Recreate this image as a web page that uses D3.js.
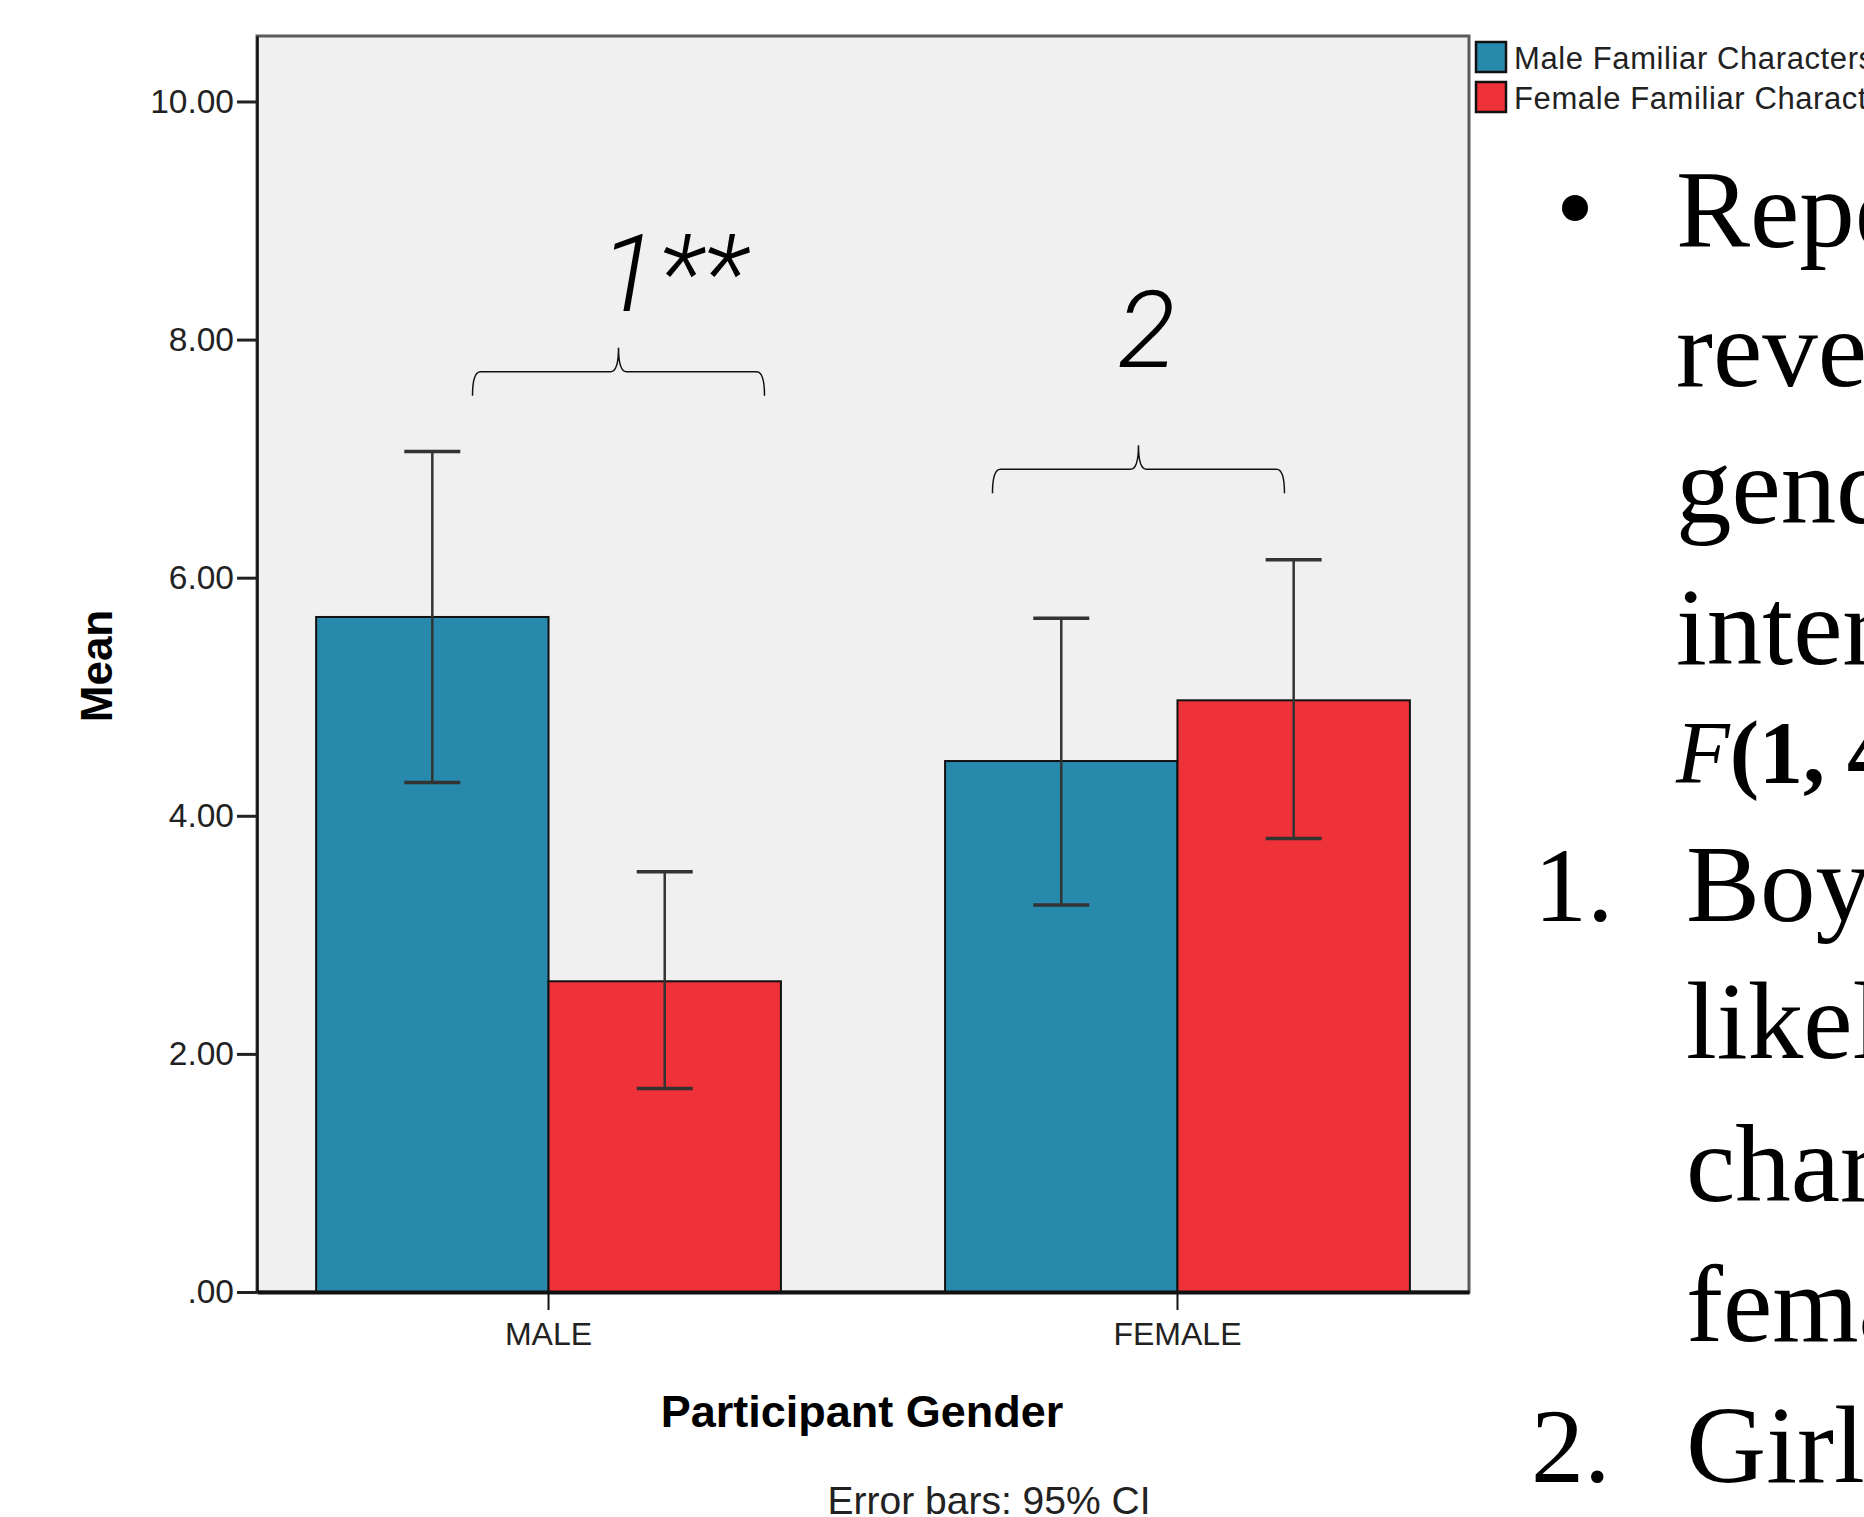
<!DOCTYPE html>
<html>
<head>
<meta charset="utf-8">
<script src="https://cdn.jsdelivr.net/npm/d3@7"></script>
<style>
  html, body { margin: 0; padding: 0; background: #fff; overflow: hidden; }
  svg { display: block; }
</style>
</head>
<body>
<script>
// participant groups on the x axis
const genders = ["MALE", "FEMALE"];
// the two character series
const series = ["Male Familiar Characters", "Female Familiar Characters"];
const seriesColors = ["#2789AB", "#EF323A"];
// means, per gender
const maleCharMeans = [5.67, 4.46];
const femaleCharMeans = [2.61, 4.97];
// 95% CI bounds, per gender
const maleCharLow = [4.28, 3.25];
const maleCharHigh = [7.06, 5.66];
const femaleCharLow = [1.71, 3.81];
const femaleCharHigh = [3.53, 6.15];
const yTicks = [0, 2, 4, 6, 8, 10];
// significance notes above each group
const notes = ["1**", "2"];
const noteLevels = [7.73, 6.91];

const W = 1864, H = 1517;
const plot = {left: 257, top: 36, right: 1469, bottom: 1292};

const svg = d3.select("body").append("svg")
    .attr("width", W)
    .attr("height", H);

const x = d3.scaleBand()
    .domain(genders)
    .range([plot.left, plot.right])
    .paddingInner(0.261)
    .paddingOuter(0.094);

const xs = d3.scaleBand()
    .domain(series)
    .range([0, x.bandwidth()]);

const y = d3.scaleLinear()
    .domain([0, 10.55])
    .range([plot.bottom, plot.top]);

const color = d3.scaleOrdinal().domain(series).range(seriesColors);

// flatten to rows
let rows = [];
genders.forEach(function(g, i) {
  rows.push({g: g, s: series[0], mean: maleCharMeans[i], lo: maleCharLow[i], hi: maleCharHigh[i]});
  rows.push({g: g, s: series[1], mean: femaleCharMeans[i], lo: femaleCharLow[i], hi: femaleCharHigh[i]});
});

// plot background
svg.append("rect")
    .attr("x", plot.left).attr("y", plot.top)
    .attr("width", plot.right - plot.left)
    .attr("height", plot.bottom - plot.top)
    .attr("fill", "#F0F0F0")
    .attr("stroke", "#5a5a5a")
    .attr("stroke-width", 3);

// bars
svg.append("g").selectAll("rect")
    .data(rows)
  .enter().append("rect")
    .attr("x", function(d) { return x(d.g) + xs(d.s); })
    .attr("y", function(d) { return y(d.mean); })
    .attr("width", xs.bandwidth())
    .attr("height", function(d) { return y(0) - y(d.mean); })
    .attr("fill", function(d) { return color(d.s); })
    .attr("stroke", "#111")
    .attr("stroke-width", 2);

// error bars
const capW = 28;
let eb = svg.append("g").selectAll("g")
    .data(rows)
  .enter().append("g")
    .attr("stroke", "#333")
    .attr("stroke-width", 2.5);
eb.append("line")
    .attr("x1", function(d) { return x(d.g) + xs(d.s) + xs.bandwidth() / 2; })
    .attr("x2", function(d) { return x(d.g) + xs(d.s) + xs.bandwidth() / 2; })
    .attr("y1", function(d) { return y(d.lo); })
    .attr("y2", function(d) { return y(d.hi); });
["lo", "hi"].forEach(function(k) {
  eb.append("line")
      .attr("x1", function(d) { return x(d.g) + xs(d.s) + xs.bandwidth() / 2 - capW; })
      .attr("x2", function(d) { return x(d.g) + xs(d.s) + xs.bandwidth() / 2 + capW; })
      .attr("y1", function(d) { return y(d[k]); })
      .attr("y2", function(d) { return y(d[k]); })
      .attr("stroke-width", 3.5);
});

// y axis
const fmt = function(v) { return d3.format(".2f")(v).replace(/^0/, ""); };
let yAxis = svg.append("g")
    .attr("transform", "translate(" + plot.left + ",0)")
    .call(d3.axisLeft(y).tickValues(yTicks).tickFormat(fmt).tickSize(20).tickSizeOuter(0).tickPadding(3));
yAxis.select(".domain").attr("stroke", "#111").attr("stroke-width", 2.5);
yAxis.selectAll(".tick line").attr("stroke", "#222").attr("stroke-width", 3);
yAxis.selectAll("text")
    .attr("font-family", "Liberation Sans, Arial, sans-serif")
    .attr("font-size", 33.5)
    .attr("fill", "#222");

// x axis
let xAxis = svg.append("g")
    .attr("transform", "translate(0," + plot.bottom + ")")
    .call(d3.axisBottom(x).tickSize(18).tickPadding(12).tickSizeOuter(0));
xAxis.select(".domain").attr("stroke", "#111").attr("stroke-width", 4);
xAxis.selectAll(".tick line").attr("stroke", "#111").attr("stroke-width", 2);
xAxis.selectAll("text")
    .attr("font-family", "Liberation Sans, Arial, sans-serif")
    .attr("font-size", 32)
    .attr("fill", "#222");

// axis titles
svg.append("text")
    .attr("transform", "translate(112,666) rotate(-90)")
    .attr("text-anchor", "middle")
    .attr("font-family", "Liberation Sans, Arial, sans-serif")
    .attr("font-weight", "bold")
    .attr("font-size", 44)
    .text("Mean");

svg.append("text")
    .attr("x", 862).attr("y", 1427)
    .attr("text-anchor", "middle")
    .attr("font-family", "Liberation Sans, Arial, sans-serif")
    .attr("font-weight", "bold")
    .attr("font-size", 45)
    .text("Participant Gender");

svg.append("text")
    .attr("x", 989).attr("y", 1514)
    .attr("text-anchor", "middle")
    .attr("font-family", "Liberation Sans, Arial, sans-serif")
    .attr("font-size", 39)
    .attr("fill", "#222")
    .text("Error bars: 95% CI");

// legend
let lg = svg.append("g").selectAll("g")
    .data(series)
  .enter().append("g")
    .attr("transform", function(d, i) { return "translate(1476," + (42 + i * 40) + ")"; });
lg.append("rect")
    .attr("width", 30).attr("height", 30)
    .attr("fill", function(d) { return color(d); })
    .attr("stroke", "#111")
    .attr("stroke-width", 2.5);
lg.append("text")
    .attr("x", 38).attr("y", 27)
    .attr("font-family", "Liberation Sans, Arial, sans-serif")
    .attr("font-size", 31)
    .attr("letter-spacing", 0.6)
    .attr("fill", "#222")
    .text(function(d) { return d; });

// braces with notes
const braceShift = [70, -39], braceHalf = 146;
function brace(xc, yl) {
  const x0 = xc - braceHalf, x1 = xc + braceHalf, r = 8, drop = 24, tip = 24;
  return "M" + x0 + "," + (yl + drop) +
    " Q" + x0 + "," + yl + " " + (x0 + r) + "," + yl +
    " L" + (xc - r) + "," + yl +
    " Q" + xc + "," + yl + " " + xc + "," + (yl - tip) +
    " Q" + xc + "," + yl + " " + (xc + r) + "," + yl +
    " L" + (x1 - r) + "," + yl +
    " Q" + x1 + "," + yl + " " + x1 + "," + (yl + drop);
}
genders.forEach(function(g, i) {
  const xc = x(g) + x.bandwidth() / 2 + braceShift[i];
  const yl = y(noteLevels[i]);
  svg.append("path")
      .attr("d", brace(xc, yl))
      .attr("fill", "none")
      .attr("stroke", "#111")
      .attr("stroke-width", 1.5);
  svg.append("text")
      .attr("x", i === 0 ? xc - 19 : xc - 21)
      .attr("y", i === 0 ? yl - 61 : yl - 102)
      .attr("font-family", "Roboto, Liberation Sans, sans-serif")
      .attr("font-style", "italic")
      .attr("font-weight", 300)
      .attr("font-size", 108)
      .text(notes[i]);
});

// slide text on the right
const serif = "Liberation Serif, Times New Roman, serif";
const bodyLines = [
  {x: 1676, y: 247, t: "Repeated"},
  {x: 1676, y: 386, t: "revealed"},
  {x: 1676, y: 523, t: "gender"},
  {x: 1676, y: 664, t: "interaction"},
  {x: 1686, y: 921, t: "Boys"},
  {x: 1686, y: 1058, t: "likely"},
  {x: 1686, y: 1201, t: "characters"},
  {x: 1686, y: 1341, t: "female"},
  {x: 1686, y: 1482, t: "Girls"}
];
svg.append("g").selectAll("text")
    .data(bodyLines)
  .enter().append("text")
    .attr("x", function(d) { return d.x; })
    .attr("y", function(d) { return d.y; })
    .attr("font-family", serif)
    .attr("font-size", 111)
    .text(function(d) { return d.t; });

let fl = svg.append("text")
    .attr("x", 1676).attr("y", 782)
    .attr("font-family", serif)
    .attr("font-size", 88);
fl.append("tspan").attr("font-style", "italic").text("F");
fl.append("tspan").attr("font-weight", "bold").text("(1, 4");

svg.append("circle").attr("cx", 1575).attr("cy", 208).attr("r", 13).attr("fill", "#000");
svg.append("text").attr("x", 1534).attr("y", 921)
    .attr("font-family", serif).attr("font-size", 106).text("1.");
svg.append("text").attr("x", 1531).attr("y", 1482)
    .attr("font-family", serif).attr("font-size", 106).text("2.");
</script>
</body>
</html>
